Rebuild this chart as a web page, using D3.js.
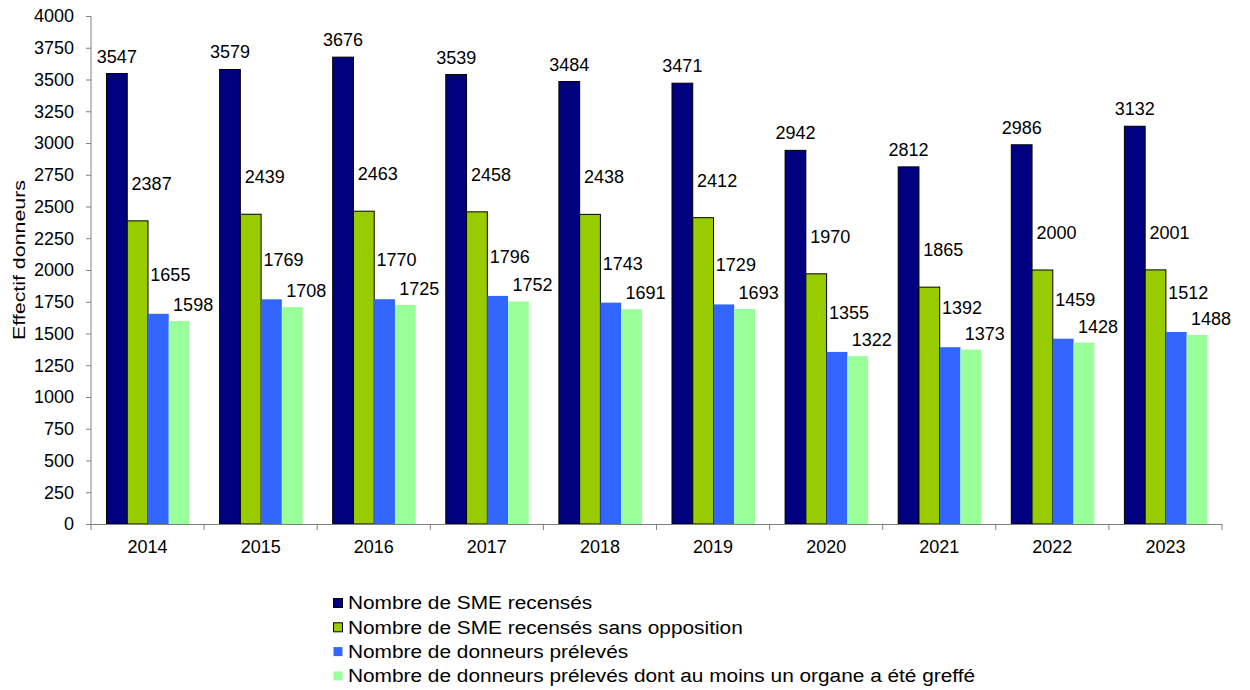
<!DOCTYPE html>
<html>
<head>
<meta charset="utf-8">
<script src="https://cdn.jsdelivr.net/npm/d3@7"></script>
<style>
  body { margin: 0; background: #fff; }
  svg { font-family: "Liberation Sans", Arial, sans-serif; }
</style>
</head>
<body>
<div id="vis"></div>
<script>
const FRAME_WIDTH = 1250;
const FRAME_HEIGHT = 690;
const MARGINS = {left: 91, right: 28, top: 16, bottom: 166};

const years = ['2014', '2015', '2016', '2017', '2018', '2019', '2020', '2021', '2022', '2023'];
const smeRecenses = [3547, 3579, 3676, 3539, 3484, 3471, 2942, 2812, 2986, 3132];
const smeSansOpposition = [2387, 2439, 2463, 2458, 2438, 2412, 1970, 1865, 2000, 2001];
const donneursPreleves = [1655, 1769, 1770, 1796, 1743, 1729, 1355, 1392, 1459, 1512];
const donneursGreffes = [1598, 1708, 1725, 1752, 1691, 1693, 1322, 1373, 1428, 1488];
const seriesNames = ['Nombre de SME recensés', 'Nombre de SME recensés sans opposition',
                     'Nombre de donneurs prélevés', 'Nombre de donneurs prélevés dont au moins un organe a été greffé'];
const yTicks = d3.range(0, 4001, 250);

const COLORS = ['#000080', '#99cc00', '#3366ff', '#99ff99'];
const STROKES = ['#000', '#000', 'none', 'none'];
// label nudges per series (Excel placed them a bit oddly)
const LABEL_DX = [0, 14, 12, 14];
const LABEL_DY = [-11, -31, -33, -10];

const series = [smeRecenses, smeSansOpposition, donneursPreleves, donneursGreffes];

const VIS_WIDTH = FRAME_WIDTH - MARGINS.left - MARGINS.right;
const VIS_HEIGHT = FRAME_HEIGHT - MARGINS.top - MARGINS.bottom;

const FRAME = d3.select('#vis')
  .append('svg')
    .attr('width', FRAME_WIDTH)
    .attr('height', FRAME_HEIGHT);

const X_SCALE = d3.scaleBand()
  .domain(years)
  .range([0, VIS_WIDTH])
  .padding(0);

const step = X_SCALE.bandwidth();
const X_INNER = d3.scaleBand()
  .domain(d3.range(series.length))
  .range([step * 0.137, step * 0.871])
  .padding(0);

const Y_SCALE = d3.scaleLinear()
  .domain([0, 4000])
  .range([VIS_HEIGHT, 0]);

const G = FRAME.append('g')
  .attr('transform', 'translate(' + MARGINS.left + ',' + MARGINS.top + ')');

// bars
series.forEach((vals, s) => {
  G.selectAll('.bar' + s)
    .data(vals)
    .enter()
    .append('rect')
      .attr('x', (d, i) => X_SCALE(years[i]) + X_INNER(s))
      .attr('y', d => Y_SCALE(d))
      .attr('width', X_INNER.bandwidth())
      .attr('height', d => VIS_HEIGHT - Y_SCALE(d))
      .attr('fill', COLORS[s])
      .attr('stroke', STROKES[s])
      .attr('stroke-width', 1);

  G.selectAll('.lab' + s)
    .data(vals)
    .enter()
    .append('text')
      .attr('x', (d, i) => X_SCALE(years[i]) + X_INNER(s) + X_INNER.bandwidth() / 2 + LABEL_DX[s])
      .attr('y', d => Y_SCALE(d) + LABEL_DY[s])
      .attr('text-anchor', 'middle')
      .attr('font-size', '18px')
      .attr('fill', '#000')
      .text(d => d);
});

// y axis
const yAxis = G.append('g')
  .call(d3.axisLeft(Y_SCALE).tickValues(yTicks).tickSize(5).tickPadding(12).tickFormat(d3.format('d')));
yAxis.selectAll('text').attr('font-size', '18px').attr('fill', '#000');
yAxis.selectAll('line, path').attr('stroke', '#808080');
yAxis.select('.domain').attr('d', 'M0,' + VIS_HEIGHT + 'V0.5');

// x axis
const xAxis = G.append('g')
  .attr('transform', 'translate(0,' + VIS_HEIGHT + ')')
  .call(d3.axisBottom(X_SCALE).tickSize(0).tickPadding(16));
xAxis.selectAll('text').attr('font-size', '18px').attr('fill', '#000');
xAxis.select('.domain').attr('stroke', '#808080').attr('d', 'M0,0.5H' + VIS_WIDTH);

xAxis.selectAll('.bound')
  .data(years.concat(['end']))
  .enter()
  .append('line')
    .attr('x1', d => d === 'end' ? VIS_WIDTH : X_SCALE(d))
    .attr('x2', d => d === 'end' ? VIS_WIDTH : X_SCALE(d))
    .attr('y1', 0)
    .attr('y2', 6)
    .attr('stroke', '#808080');

// y axis label
FRAME.append('text')
  .attr('transform', 'translate(25,' + (MARGINS.top + 244) + ') rotate(-90)')
  .attr('text-anchor', 'middle')
  .attr('font-size', '17px')
  .attr('textLength', 160)
  .attr('lengthAdjust', 'spacingAndGlyphs')
  .text('Effectif donneurs');

// legend (text in the original is a bit wider than the font, stretch it)
const LEGEND = FRAME.append('g').attr('transform', 'translate(333,603)');
seriesNames.forEach((name, s) => {
  const row = LEGEND.append('g').attr('transform', 'translate(0,' + (s * 24.3) + ')');
  row.append('rect')
    .attr('x', 0.5)
    .attr('y', -4.5)
    .attr('width', 9)
    .attr('height', 9)
    .attr('fill', COLORS[s])
    .attr('stroke', STROKES[s]);
  const t = row.append('text')
    .attr('x', 15)
    .attr('y', 0)
    .attr('dy', '0.35em')
    .attr('font-size', '18px')
    .text(name);
  const w = t.node().getComputedTextLength();
  t.attr('textLength', w * 1.157).attr('lengthAdjust', 'spacingAndGlyphs');
});
</script>
</body>
</html>
